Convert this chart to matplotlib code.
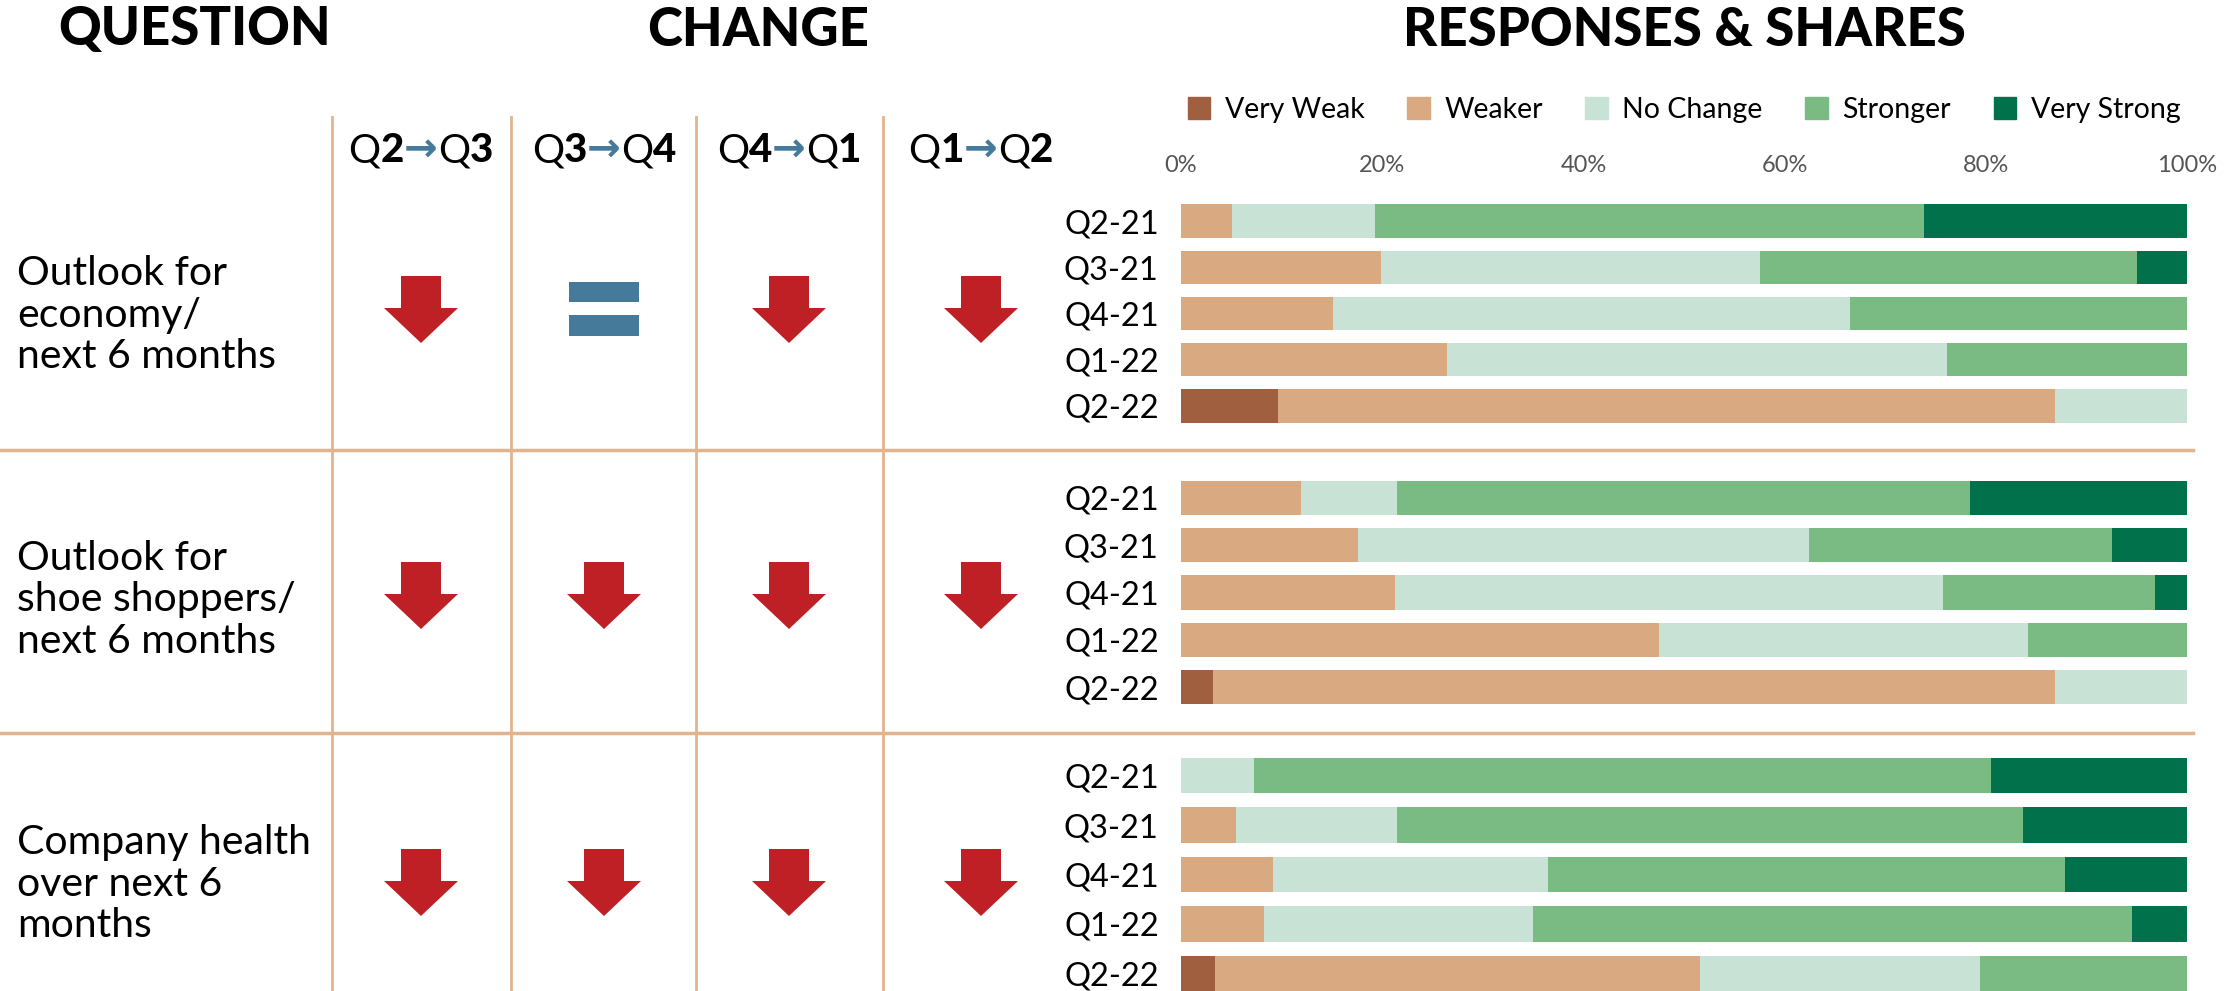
import matplotlib
matplotlib.use('Agg')
import matplotlib.pyplot as plt
from matplotlib.patches import Polygon, Rectangle, Patch
import numpy as np

# ---- data ----
categories = ['Very Weak', 'Weaker', 'No Change', 'Stronger', 'Very Strong']
colors = ['#A0603F', '#D9A982', '#C8E2D6', '#79BB82', '#00714A']
periods = ['Q2-21', 'Q3-21', 'Q4-21', 'Q1-22', 'Q2-22']
questions = ['Outlook for\neconomy/\nnext 6 months',
             'Outlook for\nshoe shoppers/\nnext 6 months',
             'Company health\nover next 6\nmonths']
transitions = [('2', '3'), ('3', '4'), ('4', '1'), ('1', '2')]

# shares per period (rows) for each category (cols), in %
economy = [[0, 5.1, 14.2, 54.6, 26.1],
           [0, 19.9, 37.7, 37.4, 5.0],
           [0, 15.1, 51.4, 33.5, 0],
           [0, 26.4, 49.7, 23.9, 0],
           [9.6, 77.3, 13.1, 0, 0]]
shoppers = [[0, 11.9, 9.6, 56.9, 21.6],
            [0, 17.6, 44.8, 30.1, 7.5],
            [0, 21.3, 54.4, 21.1, 3.2],
            [0, 47.5, 36.7, 15.8, 0],
            [3.2, 83.7, 13.1, 0, 0]]
company = [[0, 0, 7.3, 73.2, 19.5],
           [0, 5.5, 16.0, 62.2, 16.3],
           [0, 9.1, 27.4, 51.4, 12.1],
           [0, 8.3, 26.7, 59.5, 5.5],
           [3.4, 48.2, 27.8, 20.6, 0]]
groups = [economy, shoppers, company]

# change symbol per question / transition
changes = [['down', 'equal', 'down', 'down'],
           ['down', 'down', 'down', 'down'],
           ['down', 'down', 'down', 'down']]

W, H = 2233, 991
fig = plt.figure(figsize=(W / 100, H / 100), dpi=100)

# overlay in pixel coordinates for the table part
ov = fig.add_axes([0, 0, 1, 1])
ov.set_xlim(0, W)
ov.set_ylim(H, 0)
ov.axis('off')

line_c = '#E2B48E'
red = '#BE2026'
blue = '#467A9B'
font = 'Lato'

# headers
for txt, x in [('QUESTION', 195), ('CHANGE', 758), ('RESPONSES & SHARES', 1684)]:
    ov.text(x, 30, txt, ha='center', va='center', fontsize=38,
            fontweight='black', family=font, color='black')

# table lines
for x in [332, 511, 696, 883]:
    ov.plot([x, x], [117, H], color=line_c, lw=2)
for y in [450, 733]:
    ov.plot([0, 2193], [y, y], color=line_c, lw=2.5)

col_x = [421, 604, 789, 981]
group_cy = [309, 595, 882]
q_cy = [315, 600, 884]

# column headers "Q2 -> Q3"
fig.canvas.draw()
r = fig.canvas.get_renderer()
for (a, b), cx in zip(transitions, col_x):
    pieces = [('Q', 'normal', 'black', font), (a, 'black', 'black', font),
              ('\u2192', 'bold', blue, 'DejaVu Sans'),
              ('Q', 'normal', 'black', font), (b, 'black', 'black', font)]
    objs = []
    for s, wt, c, fam in pieces:
        t = ov.text(0, 151, s, ha='left', va='center', fontsize=29,
                    fontweight=wt, color=c, family=fam)
        objs.append(t)
    widths = [t.get_window_extent(r).width for t in objs]
    x = cx - sum(widths) / 2
    for t, w in zip(objs, widths):
        t.set_x(x)
        x += w

# change symbols
for gi, row in enumerate(changes):
    cy = group_cy[gi]
    for cx, ch in zip(col_x, row):
        if ch == 'down':
            top = cy - 33
            pts = [(cx - 20, top), (cx + 20, top), (cx + 20, top + 32),
                   (cx + 37, top + 32), (cx, top + 67), (cx - 37, top + 32),
                   (cx - 20, top + 32)]
            ov.add_patch(Polygon(pts, closed=True, color=red, lw=0))
        else:
            ov.add_patch(Rectangle((cx - 35, cy - 27), 70, 20, color=blue, lw=0))
            ov.add_patch(Rectangle((cx - 35, cy + 6), 70, 21, color=blue, lw=0))

# question labels
for q, cy in zip(questions, q_cy):
    ov.text(17, cy, q, ha='left', va='center', fontsize=29.5, family=font,
            linespacing=1.15)

# bar groups: (top px, bottom px)
spans = [(198, 429), (474, 711), (751, 998)]
left_px, right_px = 1181, 2187
for gi, (vals, (t, b)) in enumerate(zip(groups, spans)):
    ax = fig.add_axes([left_px / W, 1 - b / H, (right_px - left_px) / W, (b - t) / H])
    data = np.array(vals)
    y = np.arange(len(periods))
    left = np.zeros(len(periods))
    for k, cat in enumerate(categories):
        ax.barh(y, data[:, k], left=left, height=0.72, color=colors[k], lw=0)
        left += data[:, k]
    ax.set_xlim(0, 100)
    ax.set_ylim(len(periods) - 0.5, -0.5)
    ax.set_yticks(y)
    ax.set_yticklabels(periods, fontsize=23.5, family=font)
    ax.tick_params(axis='y', length=0, pad=16)
    for s in ax.spines.values():
        s.set_visible(False)
    ax.patch.set_alpha(0)
    if gi == 0:
        ax.xaxis.tick_top()
        ax.set_xticks([0, 20, 40, 60, 80, 100])
        ax.set_xticklabels(['0%', '20%', '40%', '60%', '80%', '100%'],
                           fontsize=17, color='#555555', family=font)
        ax.tick_params(axis='x', length=0, pad=16)
    else:
        ax.set_xticks([])

handles = [Patch(color=c) for c in colors]
fig.legend(handles, categories, loc='center', bbox_to_anchor=(1684 / W, 1 - 110 / H),
           ncol=5, frameon=False, handlelength=0.8, handleheight=0.8,
           handletextpad=0.5, columnspacing=1.5, prop={'family': font, 'size': 20.5})

fig.savefig('out.png', dpi=100)
